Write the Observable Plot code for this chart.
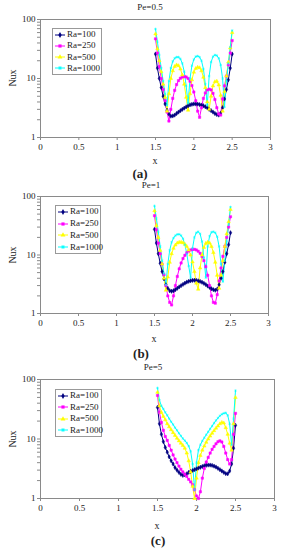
<!DOCTYPE html>
<html><head><meta charset="utf-8">
<script src="https://cdn.jsdelivr.net/npm/d3@7"></script>
<script src="https://cdn.jsdelivr.net/npm/@observablehq/plot@0.6"></script>
<style>
body{margin:0;background:#fff;font-family:"Liberation Serif","Times New Roman",serif;color:#222;}
#root{position:relative;width:283px;height:550px;overflow:hidden;}
.t{position:absolute;font-size:9px;transform:translate(-50%,-50%);white-space:nowrap;line-height:1;}
.ylab{position:absolute;font-size:10px;transform:translate(-50%,-50%) rotate(-90deg);white-space:nowrap;line-height:1;}
.xlab{position:absolute;font-size:10px;transform:translate(-50%,-50%);white-space:nowrap;line-height:1;}
.cap{position:absolute;font-size:13px;font-weight:bold;transform:translate(-50%,-50%);white-space:nowrap;line-height:1;}
.leg{position:absolute;border:1px solid #999;background:#fff;font-size:9px;box-sizing:border-box;}
.row{position:absolute;left:2px;height:10px;display:flex;align-items:center;transform:translateY(-50%);white-space:nowrap;line-height:1;}
.plot{position:absolute;left:0;}
svg.plot text{font-family:"Liberation Serif","Times New Roman",serif !important;}
</style></head><body><div id="root"></div>
<script>
const xs = [1.5,1.525,1.55,1.575,1.6,1.625,1.65,1.675,1.7,1.725,1.75,1.775,1.8,1.825,1.85,1.875,1.9,1.925,1.95,1.975,2,2.025,2.05,2.075,2.1,2.125,2.15,2.175,2.2,2.225,2.25,2.275,2.3,2.325,2.35,2.375,2.4,2.425,2.45,2.475,2.5];
const seriesNames = ["Ra=100","Ra=250","Ra=500","Ra=1000"];
const colors = ["#000080","#ff00ff","#ffff00","#00ffff"];
const symbols = ["diamond","square","triangle","asterisk"];
const titles = ["Pe=0.5","Pe=1","Pe=5"];
const captions = ["(a)","(b)","(c)"];
const xLabel = "x";
const yLabel = "Nux";
const xTicks = [0,0.5,1,1.5,2,2.5,3];
const yTicks = [1,10,100];
const yMinor = [2,3,4,5,6,7,8,9,20,30,40,50,60,70,80,90];

// Pe = 0.5
const peA_100 = [26,15,10,7,5,3.7,2.9,2.5,2.3,2.32, 2.4,2.55,2.7,2.85,3.0,3.15,3.3,3.45,3.57,3.65, 3.7,3.7,3.68,3.62,3.55,3.45,3.32,3.18,3.0,2.85, 2.7,2.55,2.45,2.4,2.6,3.2,4.5,6.5,9.5,15,26];
const peA_250 = [47,27,16,10,6.5,4.2,2.7,1.9, 3.0,4.6,6.3,7.9,9.2,10.1,10.6,10.8,10.6,10.0,9.0,7.6,5.9,4.2,2.8,2.2, 3.2,4.6,5.7,6.4,6.6,6.4,5.6,4.4,3.2,2.5,2.4, 4.5,7.5,11,17,27,44];
const peA_500 = [57,32,20,13,8,4.8,2.8, 5.5,10,13.5,16,17,16.5,14.5,11.5,8,4.8,2.9, 5.5,9.5,12.8,14.8,15.5,15.2,13.5,10.5,7,4,3.0, 5,7.5,8.8,9,7.8,5.2,2.8, 6,11,19,33,60];
const peA_1000 = [69,42,25,15,9,5.5,3.5, 9,15,19.5,22,23,23,21.5,18,13,7.5,3.8, 10,16.5,21,23.5,24,23,20,14.5,8,3.5, 11,19,23.5,25,24.5,22,17,10,3.3, 9,18,34,65];
// Pe = 1
const peB_100 = [27.5,16,10.5,7.2,5.2,3.9,3.1,2.7,2.45,2.4, 2.45,2.55,2.7,2.85,3.0,3.15,3.3,3.45,3.55,3.63, 3.68,3.7,3.68,3.62,3.53,3.42,3.28,3.12,2.95,2.8, 2.65,2.55,2.5,2.6,3.1,4.0,5.2,7.5,10.5,15,24];
const peB_250 = [47,27,16,10.5,7,4.6,3.0,2.0,1.55,1.4, 2.0,3.0,4.3,5.8,7.3,8.7,9.9,10.9,11.7,12.2, 12.5,12.5,12.2,11.6,10.7,9.5,8.0,6.3,4.5,3.0, 2.0,1.55,1.5,2.1,3.6,6,9.5,14,20,30,45];
const peB_500 = [57,32,20,12,7,4,2.5, 4.2,7.5,10.5,13,14.8,16,16.5,16.5,16.2,15.3,14,12.2,10,7.6,5.2,3.3,2.6, 6,10,13.5,15.8,16.5,16,14,11,7.5,4.5,2.7, 4.5,8,14,23,37,60];
const peB_1000 = [69,42,25,14,8,4.8,3.1, 7,12,16.5,19.5,21.5,22.5,22.6,21.5,19,15,10.5,6.5,4.1, 13,20,24,25,23,17,9,4.1, 14,21,24.5,25,24,20.5,14,7,3.5, 8,17,33,66];
// Pe = 5
const peC_100 = [34,18,12,9,7.2,6.0,5.0,4.3,3.8,3.3, 3.0,2.75,2.55,2.45,2.5,2.6,2.75,2.85,2.95,3.05, 3.15,3.25,3.35,3.45,3.55,3.62,3.65,3.65,3.6,3.5, 3.38,3.22,3.05,2.9,2.75,2.62,2.6,2.9,3.8,7,17];
const peC_250 = [54,28,19,14,11,9.5,7.8,6.5,5.4,4.6, 4.0,3.5,3.1,2.8,2.55,2.35,2.1,1.9,1.7,1.4, 1.1,1.0,1.3,2.2,3.2,4.1,4.9,5.8,6.7,7.5, 8.3,9.0,9.3,8.9,7.5,5.8,4.5,3.8,4.5,12,27];
const peC_500 = [61,36,28,24,21,18,16,14.3,12.8,11.5, 10.3,9.3,8.5,7.8,7.0,5.8,4.3,2.8,1.6,1.0, 2.2,4.0,5.3,6.5,7.6,8.8,10,11.2,12.5,13.8, 15.2,16.5,18,19,18.5,15.5,12,8.5,6.5,18,50];
const peC_1000 = [72,45,36,32,28,25,22,19.5,17.5,15.5, 14,12.5,11.3,10.2,9.4,8.6,7.6,6.2,3.8,1.4, 4.0,6.5,8.0,9.3,10.5,11.8,13.2,14.8,16.5,18.5, 20.5,22.5,24.5,26,27,27.5,25,18,8,22,65];

const panelData = [
  [peA_100, peA_250, peA_500, peA_1000],
  [peB_100, peB_250, peB_500, peB_1000],
  [peC_100, peC_250, peC_500, peC_1000]
];

// layout (pixels)
const layout = [
  {titleX:150, titleY:7,   frameTop:19,  frameBottom:137, frameRight:270, xLabY:161, capX:140, capY:173, leg:{left:52, top:28,  w:50, h:47}},
  {titleX:151, titleY:185, frameTop:196, frameBottom:313, frameRight:268, xLabY:339, capX:141, capY:353, leg:{left:55, top:205, w:46, h:49}},
  {titleX:153, titleY:367, frameTop:379, frameBottom:498, frameRight:274, xLabY:526, capX:158, capY:540, leg:{left:55, top:389, w:47, h:48}}
];

const root = document.getElementById("root");

function addDiv(cls, text, x, y) {
  const d = document.createElement("div");
  d.className = cls; d.textContent = text;
  d.style.left = x + "px"; d.style.top = y + "px";
  root.appendChild(d);
  return d;
}

function legendMarker(i) {
  const ns = "http://www.w3.org/2000/svg";
  const svg = document.createElementNS(ns, "svg");
  svg.setAttribute("width", 10); svg.setAttribute("height", 8);
  svg.style.marginRight = "2px";
  const line = document.createElementNS(ns, "line");
  line.setAttribute("x1", 0); line.setAttribute("x2", 10);
  line.setAttribute("y1", 4); line.setAttribute("y2", 4);
  line.setAttribute("stroke", colors[i]); line.setAttribute("stroke-width", 1);
  svg.appendChild(line);
  const symMap = {diamond: d3.symbolDiamond, square: d3.symbolSquare, triangle: d3.symbolTriangle, asterisk: d3.symbolAsterisk};
  const p = document.createElementNS(ns, "path");
  p.setAttribute("d", d3.symbol(symMap[symbols[i]], 10)());
  p.setAttribute("transform", "translate(5,4)");
  if (symbols[i] === "asterisk") { p.setAttribute("fill", "none"); p.setAttribute("stroke", colors[i]); }
  else { p.setAttribute("fill", colors[i]); }
  svg.appendChild(p);
  return svg;
}

panelData.forEach((series, pi) => {
  const L = layout[pi];
  const rows = [];
  series.forEach((vals, si) => vals.forEach((v, i) => rows.push({x: xs[i], y: v, s: seriesNames[si]})));
  const marginTop = 9, marginBottom = 20;
  const height = (L.frameBottom - L.frameTop) + marginTop + marginBottom;
  const chart = Plot.plot({
    width: 283, height, marginTop, marginBottom, marginLeft: 40, marginRight: 283 - L.frameRight,
    style: {fontFamily: "'Liberation Serif', 'Times New Roman', serif", fontSize: "9px", color: "#222", background: "transparent", overflow: "visible"},
    x: {domain: [0, 3]},
    y: {type: "log", domain: [1, 100]},
    color: {domain: seriesNames, range: colors},
    symbol: {domain: seriesNames, range: symbols},
    marks: [
      Plot.frame({stroke: "#8a8a8a"}),
      Plot.axisX({ticks: xTicks, tickSize: 3, tickPadding: 3, stroke: "#8a8a8a", tickFormat: d => String(d), label: null}),
      Plot.axisY({ticks: yTicks, tickSize: 3, tickPadding: 2, stroke: "#8a8a8a", tickFormat: d => String(d), label: null}),
      Plot.axisY({ticks: yMinor, tickSize: 3, stroke: "#8a8a8a", tickFormat: () => "", label: null}),
      Plot.line(rows, {x: "x", y: "y", z: "s", stroke: "s", strokeWidth: 1}),
      Plot.dot(rows, {x: "x", y: "y", symbol: "s", fill: "s", stroke: "s", strokeWidth: 0.5, r: 1.3})
    ]
  });
  chart.classList.add("plot");
  chart.style.top = (L.frameTop - marginTop) + "px";
  root.appendChild(chart);

  addDiv("t", titles[pi], L.titleX, L.titleY);
  addDiv("cap", captions[pi], L.capX, L.capY);
  addDiv("xlab", xLabel, (40 + L.frameRight) / 2, L.xLabY);
  addDiv("ylab", yLabel, 13, (L.frameTop + L.frameBottom) / 2);

  const leg = document.createElement("div");
  leg.className = "leg";
  leg.style.left = L.leg.left + "px"; leg.style.top = L.leg.top + "px";
  leg.style.width = L.leg.w + "px"; leg.style.height = L.leg.h + "px";
  const step = (L.leg.h - 2) / 4;
  seriesNames.forEach((name, i) => {
    const r = document.createElement("div");
    r.className = "row";
    r.style.top = (step * (i + 0.5)) + "px";
    r.appendChild(legendMarker(i));
    const sp = document.createElement("span");
    sp.textContent = name;
    r.appendChild(sp);
    leg.appendChild(r);
  });
  root.appendChild(leg);
});
</script>
</body></html>
